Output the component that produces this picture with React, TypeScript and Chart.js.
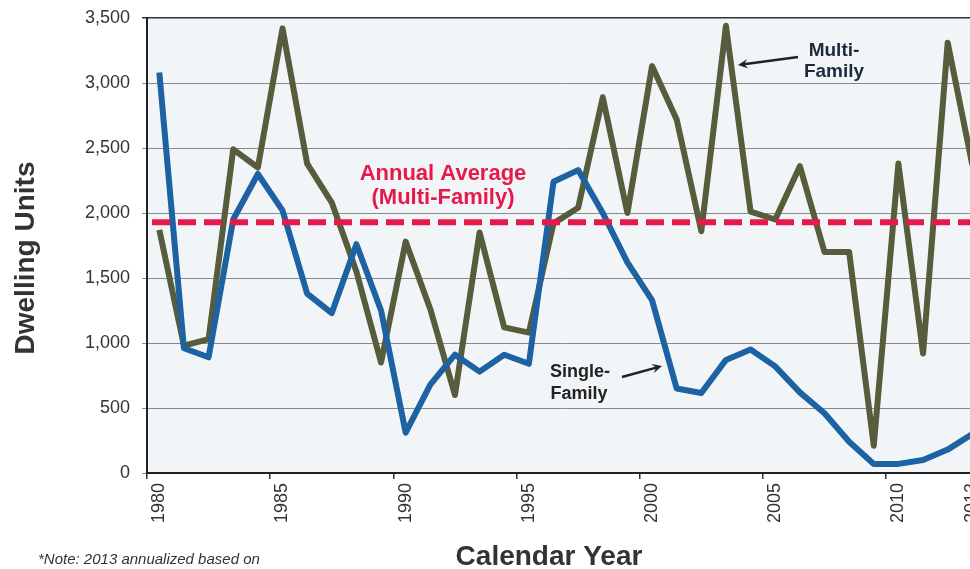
import React, { useEffect, useRef } from 'react';
import { Chart, registerables } from 'chart.js';

Chart.register(...registerables);

const years = [
  '1980', '1981', '1982', '1983', '1984', '1985', '1986', '1987', '1988', '1989',
  '1990', '1991', '1992', '1993', '1994', '1995', '1996', '1997', '1998', '1999',
  '2000', '2001', '2002', '2003', '2004', '2005', '2006', '2007', '2008', '2009',
  '2010', '2011', '2012', '2013',
];

const singleFamily = [
  3080, 960, 890, 1950, 2300, 2020, 1380, 1230, 1760, 1250,
  310, 680, 910, 780, 910, 840, 2240, 2330, 2000, 1620,
  1330, 650, 615, 870, 950, 820, 620, 460, 240, 70,
  70, 100, 180, 300,
];

const multiFamily = [
  1870, 980, 1030, 2490, 2350, 3420, 2380, 2080, 1550, 850,
  1780, 1260, 600, 1850, 1120, 1080, 1920, 2040, 2890, 2000,
  3130, 2720, 1860, 3440, 2010, 1950, 2360, 1700, 1700, 210,
  2380, 920, 3310, 2370,
];

const labeledYears = ['1980', '1985', '1990', '1995', '2000', '2005', '2010', '2013'];

const yTicks = [0, 500, 1000, 1500, 2000, 2500, 3000, 3500];

const FONT = "'Liberation Sans', Arial, Helvetica, sans-serif";
const MF_COLOR = '#565c3c';
const SF_COLOR = '#1d62a2';
const RED = '#e6194b';

const mfAverage = multiFamily.reduce((a, b) => a + b, 0) / multiFamily.length;

function drawArrow(ctx: CanvasRenderingContext2D, x1: number, y1: number, x2: number, y2: number) {
  const ang = Math.atan2(y2 - y1, x2 - x1);
  const head = 11;
  ctx.beginPath();
  ctx.moveTo(x1, y1);
  ctx.lineTo(x2 - Math.cos(ang) * 6, y2 - Math.sin(ang) * 6);
  ctx.stroke();
  ctx.beginPath();
  ctx.moveTo(x2, y2);
  ctx.lineTo(x2 - head * Math.cos(ang - 0.45), y2 - head * Math.sin(ang - 0.45));
  ctx.lineTo(x2 - head * 0.55 * Math.cos(ang), y2 - head * 0.55 * Math.sin(ang));
  ctx.lineTo(x2 - head * Math.cos(ang + 0.45), y2 - head * Math.sin(ang + 0.45));
  ctx.closePath();
  ctx.fill();
}

const backgroundPlugin = {
  id: 'bgFill',
  beforeDraw(chart: any) {
    const { ctx, chartArea: a, width, height } = chart;
    ctx.save();
    ctx.fillStyle = '#ffffff';
    ctx.fillRect(0, 0, width, height);
    ctx.fillStyle = '#f2f5f7';
    ctx.fillRect(a.left, a.top, a.right - a.left, a.bottom - a.top);
    ctx.restore();
  },
};

const averagePlugin = {
  id: 'avgLine',
  afterDatasetsDraw(chart: any) {
    const { ctx, chartArea: a } = chart;
    const y = chart.scales.y.getPixelForValue(mfAverage);
    ctx.save();
    ctx.strokeStyle = RED;
    ctx.lineWidth = 6;
    ctx.setLineDash([18, 8]);
    ctx.beginPath();
    ctx.moveTo(a.left + 5, y);
    ctx.lineTo(a.right, y);
    ctx.stroke();
    ctx.restore();
  },
};

const annotationPlugin = {
  id: 'annotations',
  afterDraw(chart: any) {
    const { ctx } = chart;
    ctx.save();
    // Axis titles
    ctx.fillStyle = '#333333';
    ctx.font = `bold 28px ${FONT}`;
    ctx.textAlign = 'center';
    ctx.textBaseline = 'alphabetic';
    ctx.fillText('Calendar Year', 549, 565);
    ctx.save();
    ctx.translate(34, 258);
    ctx.rotate(-Math.PI / 2);
    ctx.fillText('Dwelling Units', 0, 0);
    ctx.restore();

    // Note
    ctx.textAlign = 'left';
    ctx.font = `italic 15px ${FONT}`;
    ctx.fillStyle = '#333333';
    ctx.fillText('*Note: 2013 annualized based on', 38, 564);

    // Annual average label
    ctx.textAlign = 'center';
    ctx.fillStyle = RED;
    ctx.font = `bold 22px ${FONT}`;
    ctx.fillText('Annual Average', 443, 180);
    ctx.fillText('(Multi-Family)', 443, 204);

    // Multi-Family label
    ctx.fillStyle = '#1c2a3e';
    ctx.font = `bold 19px ${FONT}`;
    ctx.fillText('Multi-', 834, 56);
    ctx.fillText('Family', 834, 77);

    // Single-Family label
    ctx.fillStyle = '#222222';
    ctx.font = `bold 18px ${FONT}`;
    ctx.fillText('Single-', 580, 377);
    ctx.fillText('Family', 579, 399);

    // Arrows
    ctx.strokeStyle = '#222222';
    ctx.fillStyle = '#222222';
    ctx.lineWidth = 2.5;
    drawArrow(ctx, 798, 57, 738, 65);
    drawArrow(ctx, 622, 377, 662, 366);
    ctx.restore();
  },
};

export default function App() {
  const canvasRef = useRef<HTMLCanvasElement | null>(null);

  useEffect(() => {
    if (!canvasRef.current) return;
    const chart = new Chart(canvasRef.current, {
      type: 'line',
      data: {
        labels: years,
        datasets: [
          {
            label: 'Single-Family',
            data: singleFamily,
            borderColor: SF_COLOR,
            backgroundColor: SF_COLOR,
            borderWidth: 6,
            borderJoinStyle: 'round',
            pointRadius: 0,
            tension: 0,
            fill: false,
          },
          {
            label: 'Multi-Family',
            data: multiFamily,
            borderColor: MF_COLOR,
            backgroundColor: MF_COLOR,
            borderWidth: 6,
            borderJoinStyle: 'round',
            pointRadius: 0,
            tension: 0,
            fill: false,
          },
        ],
      },
      options: {
        animation: false,
        responsive: false,
        devicePixelRatio: 1,
        layout: { padding: { top: 18, right: 6, bottom: 0, left: 0 } },
        plugins: {
          legend: { display: false },
          tooltip: { enabled: false },
          title: { display: false },
        },
        font: { family: FONT },
        scales: {
          x: {
            type: 'category',
            offset: true,
            grid: {
              offset: true,
              drawOnChartArea: false,
              drawTicks: true,
              tickLength: 6,
              lineWidth: 1.5,
              color: (c: any) => (typeof c.index === 'number' && c.index % 5 === 0 ? '#333333' : 'rgba(0,0,0,0)'),
            },
            border: { display: true, color: '#222222', width: 2 },
            ticks: {
              autoSkip: false,
              maxRotation: 90,
              minRotation: 90,
              padding: 4,
              color: '#333333',
              font: { family: FONT, size: 18 },
              callback: (_v: any, i: number) => (labeledYears.includes(years[i]) ? years[i] : ''),
            },
            afterFit: (s: any) => {
              s.height = 96;
            },
          },
          y: {
            min: 0,
            max: 3500,
            afterBuildTicks: (s: any) => {
              s.ticks = yTicks.map((v) => ({ value: v }));
            },
            ticks: {
              padding: 12,
              color: '#333333',
              font: { family: FONT, size: 18 },
              callback: (v: any) => Number(v).toLocaleString('en-US'),
            },
            grid: {
              color: (c: any) => (c.tick && c.tick.value === 3500 ? '#333333' : '#8a8a8a'),
              lineWidth: (c: any) => (c.tick && c.tick.value === 3500 ? 1.5 : 1),
              tickLength: 5,
              drawTicks: true,
            },
            border: { display: true, color: '#222222', width: 2 },
            afterFit: (s: any) => {
              s.width = 147;
              s.paddingTop = 0;
              s.paddingBottom = 0;
            },
          },
        },
      } as any,
      plugins: [backgroundPlugin, averagePlugin, annotationPlugin],
    });
    return () => chart.destroy();
  }, []);

  return (
    <div
      style={{
        position: 'absolute',
        left: 0,
        top: 0,
        width: 970,
        height: 569,
        overflow: 'hidden',
        background: '#ffffff',
      }}
    >
      <canvas ref={canvasRef} width={998} height={569} style={{ display: 'block', width: 998, height: 569 }} />
    </div>
  );
}
